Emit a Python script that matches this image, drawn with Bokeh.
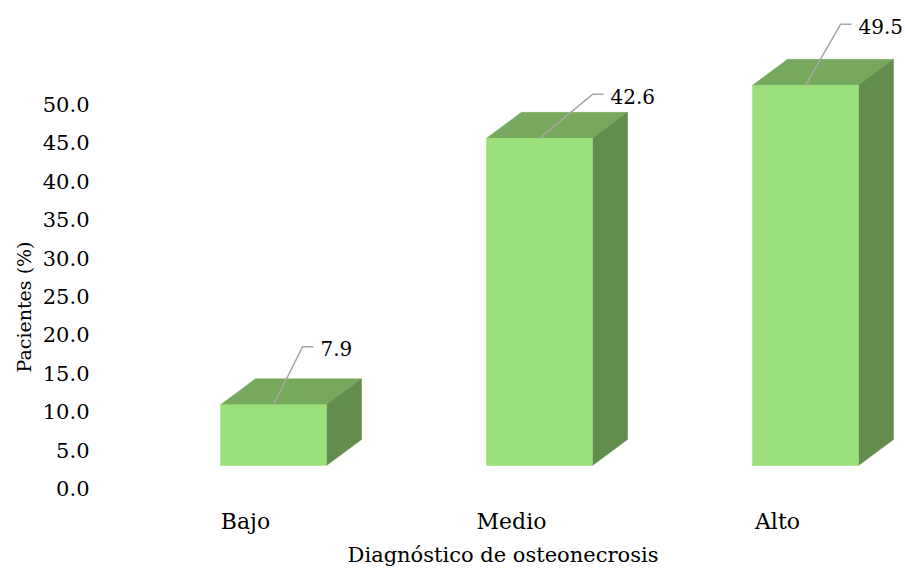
from bokeh.plotting import figure
from bokeh.models import FixedTicker, NumeralTickFormatter, Range1d, Title
from bokeh.core.properties import value
from bokeh.embed import file_html
from bokeh.resources import INLINE

# ---- data ----
categories = ["Bajo", "Medio", "Alto"]
percentages = [7.9, 42.6, 49.5]
y_ticks = [0, 5, 10, 15, 20, 25, 30, 35, 40, 45, 50]
x_title = "Diagnóstico de osteonecrosis"
y_title = "Pacientes (%)"

# ---- style constants ----
FONT = "DejaVu Serif"
FRONT = "#9ADF7A"
TOP = "#76A95E"
SIDE = "#628D4F"
LEADER = "#A6A6A6"

W, H = 905, 570
BL, BR, BT, BB = 100, 0, 10, 76
frame_w = W - BL - BR
frame_h = H - BT - BB
X0_PX = 245 - BL          # pixel position of category 0 inside frame
PX_X = 266.0               # px per category
Y0_PX = 488 - BT           # pixel row of value 0 from frame top
PX_Y = 7.68                # px per percent

x_start = -X0_PX / PX_X
x_end = x_start + frame_w / PX_X
y_start = -(frame_h - Y0_PX) / PX_Y
y_end = y_start + frame_h / PX_Y

BASE = 23 / PX_Y           # 3-D floor lift
DX = 35 / PX_X             # depth, horizontal
DY = 26 / PX_Y             # depth, vertical
SHIFT = 28 / PX_X          # front face centre offset from the category label
HW = 53 / PX_X             # half width of the front face
leader_px = [(29, -58), (53, -44), (35, -61)]   # leader elbow offsets, px
SEG = 11                   # horizontal piece of the leader, px

p = figure(width=W, height=H, output_backend="svg", toolbar_location=None,
           x_range=Range1d(x_start, x_end), y_range=Range1d(y_start, y_end),
           min_border_left=BL, min_border_right=BR, min_border_top=BT,
           min_border_bottom=BB)
p.outline_line_color = None
p.xgrid.visible = False
p.ygrid.visible = False

front_l, front_r, front_b, front_t = [], [], [], []
top_xs, top_ys, side_xs, side_ys = [], [], [], []
lx, ly, tx, ty, tt = [], [], [], [], []
for i, v in enumerate(percentages):
    l = i + SHIFT - HW
    r = i + SHIFT + HW
    t = BASE + v
    front_l.append(l); front_r.append(r); front_b.append(BASE); front_t.append(t)
    top_xs.append([l, r, r + DX, l + DX])
    top_ys.append([t, t, t + DY, t + DY])
    side_xs.append([r, r + DX, r + DX, r])
    side_ys.append([BASE, BASE + DY, t + DY, t])
    cx = i + SHIFT
    ex = cx + leader_px[i][0] / PX_X
    ey = t - leader_px[i][1] / PX_Y
    hx = ex + SEG / PX_X
    lx.append([cx, ex, hx]); ly.append([t, ey, ey])
    tx.append(hx); ty.append(ey); tt.append(f"{v:.1f}")

p.patches(top_xs, top_ys, fill_color=TOP, line_color=TOP, line_width=0.5)
p.patches(side_xs, side_ys, fill_color=SIDE, line_color=SIDE, line_width=0.5)
p.quad(left=front_l, right=front_r, bottom=front_b, top=front_t,
       fill_color=FRONT, line_color=FRONT, line_width=0.5)
p.multi_line(lx, ly, line_color=LEADER, line_width=1.5)
p.text(tx, ty, text=tt, x_offset=7, y_offset=2, text_font=value(FONT),
       text_font_size="20px", text_color="#000000",
       text_align="left", text_baseline="middle")

# axes
p.yaxis.ticker = FixedTicker(ticks=y_ticks)
p.yaxis.formatter = NumeralTickFormatter(format="0.0")
p.yaxis.axis_line_color = None
p.yaxis.major_tick_line_color = None
p.yaxis.minor_tick_line_color = None
p.yaxis.major_label_standoff = 5
p.yaxis.major_label_text_font = FONT
p.yaxis.major_label_text_font_size = "21px"
p.yaxis.major_label_text_color = "#000000"

# y title as a side title, so that it can sit lower than the frame centre
p.add_layout(Title(text=y_title, align="left", offset=122,
                   text_font=FONT, text_font_size="19px",
                   text_font_style="normal", text_color="#000000"), "left")

p.xaxis.ticker = FixedTicker(ticks=list(range(len(categories))))
p.xaxis.major_label_overrides = {i: c for i, c in enumerate(categories)}
p.xaxis.axis_line_color = None
p.xaxis.major_tick_line_color = None
p.xaxis.minor_tick_line_color = None
p.xaxis.major_label_standoff = 8
p.xaxis.major_label_text_font = FONT
p.xaxis.major_label_text_font_size = "22px"
p.xaxis.major_label_text_color = "#000000"
p.xaxis.axis_label = x_title
p.xaxis.axis_label_text_font = FONT
p.xaxis.axis_label_text_font_size = "21px"
p.xaxis.axis_label_text_font_style = "normal"
p.xaxis.axis_label_text_color = "#000000"
p.xaxis.axis_label_standoff = 6

open("out.html", "w").write(file_html(p, INLINE))
